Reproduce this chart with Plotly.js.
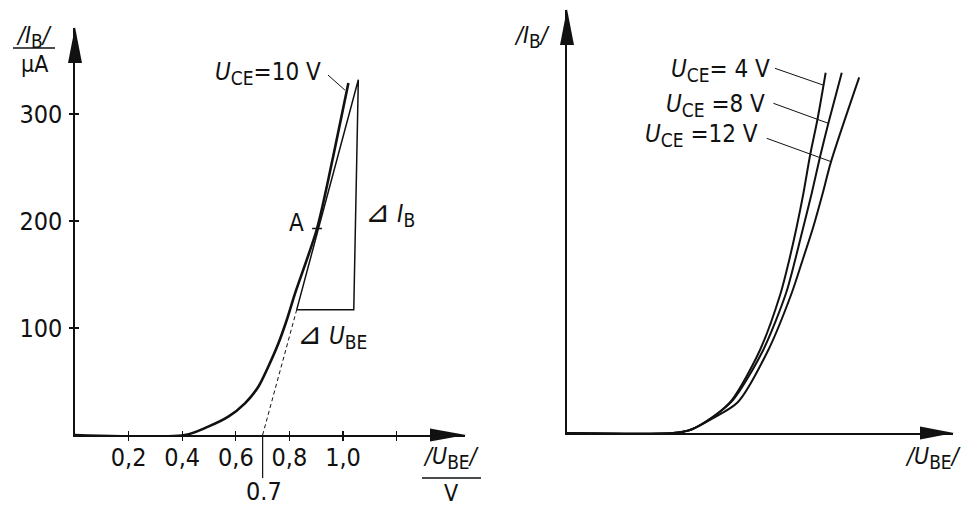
<!DOCTYPE html>
<html>
<head>
<meta charset="utf-8">
<script src="https://cdn.plot.ly/plotly-3.0.1.min.js"></script>
<style>html,body{margin:0;padding:0;background:#fff;}#chart{width:966px;height:506px;}</style>
</head>
<body>
<div id="chart"></div>
<script>
// ---- Data (left chart: U_CE = 10 V, scaled axes) ----
const uBE10 = [0, 0.410, 0.497, 0.572, 0.634, 0.684, 0.721, 0.759, 0.790, 0.821, 0.903, 0.963, 1.02];
const iB10  = [0, 0, 7.8, 17.1, 29.6, 45.1, 63.8, 85.7, 107.5, 132.4, 193, 260, 329];

// tangent at working point A and slope triangle
const tangentDashX = [0.70, 0.827];
const tangentDashY = [0, 117];
const triangleX = [0.827, 1.04, 1.057, 0.827];
const triangleY = [117, 117, 332, 117];
const pointAX = [0.903];
const pointAY = [193];

const xTickVals = [0.2, 0.4, 0.6, 0.8, 1.0, 1.2];
const xTickText = ["0,2", "0,4", "0,6", "0,8", "1,0", ""];
const yTickVals = [100, 200, 300];
const yTickText = ["100", "200", "300"];

// ---- Data (right chart: family of curves, unscaled axes) ----
const uBE4  = [0, 0.396, 0.459, 0.545, 0.615, 0.720, 0.797, 0.829, 0.857, 0.882, 0.907, 0.934, 0.965];
const iB4   = [0, 0, 2.8, 15.2, 30.8, 77.6, 130.6, 161.7, 192.8, 224.0, 259.8, 292.5, 336.7];
const uBE8  = [0, 0.396, 0.459, 0.545, 0.619, 0.732, 0.817, 0.851, 0.882, 0.913, 0.944, 0.975, 1.025];
const iB8   = [0, 0, 2.8, 15.2, 30.8, 77.6, 130.6, 161.7, 192.8, 224.0, 258.2, 289.4, 336.7];
const uBE12 = [0, 0.396, 0.459, 0.545, 0.638, 0.751, 0.838, 0.879, 0.919, 0.954, 0.985, 1.090];
const iB12  = [0, 0, 2.8, 14, 29, 77.6, 130.6, 161.7, 192.8, 224.0, 253.6, 332.4];

// ---- helpers ----
const W = 966, H = 506;
const px = v => v / W;
const py = v => 1 - v / H;
const tri = (a, b, c) => `M ${px(a[0])} ${py(a[1])} L ${px(b[0])} ${py(b[1])} L ${px(c[0])} ${py(c[1])} Z`;

const FONT = "Liberation Sans Narrow, DejaVu Sans Condensed, Liberation Sans, sans-serif";
const INK = "#111";
const DELTA = '<span style="font-family:DejaVu Sans;font-size:30px">⊿</span>';
const sub = (s, size) => `<sub><span style="font-size:${size}px">${s}</span></sub>`;

const traces = [
  {x: uBE10, y: iB10, mode: "lines", line: {color: INK, width: 2.6, shape: "spline", smoothing: 0.8}, xaxis: "x", yaxis: "y", hoverinfo: "skip"},
  {x: tangentDashX, y: tangentDashY, mode: "lines", line: {color: INK, width: 1, dash: "4px,3px"}, xaxis: "x", yaxis: "y"},
  {x: triangleX, y: triangleY, mode: "lines", line: {color: INK, width: 1.5}, xaxis: "x", yaxis: "y"},
  {x: pointAX, y: pointAY, mode: "markers", marker: {symbol: "line-ew", size: 7, line: {color: INK, width: 1.5}}, xaxis: "x", yaxis: "y"},
  {x: uBE4, y: iB4, mode: "lines", line: {color: INK, width: 2, shape: "spline", smoothing: 0.8}, xaxis: "x2", yaxis: "y2"},
  {x: uBE8, y: iB8, mode: "lines", line: {color: INK, width: 2, shape: "spline", smoothing: 0.8}, xaxis: "x2", yaxis: "y2"},
  {x: uBE12, y: iB12, mode: "lines", line: {color: INK, width: 2, shape: "spline", smoothing: 0.8}, xaxis: "x2", yaxis: "y2"},
  {x: [null], y: [null], mode: "lines", xaxis: "x3", yaxis: "y3"}
];

const xRangeL = [0, 1.455], yRangeL = [0, 380.4];
const xRangeR = [0, 1.440], yRangeR = [0, 395.3];

const ann = (o) => Object.assign({showarrow: false, xanchor: "center", yanchor: "middle"}, o);

const layout = {
  width: W, height: H,
  margin: {l: 0, r: 0, t: 0, b: 0},
  paper_bgcolor: "#fff", plot_bgcolor: "rgba(0,0,0,0)",
  showlegend: false,
  xaxis: {domain: [px(75), px(465)], range: xRangeL, anchor: "y",
    showgrid: false, zeroline: false, showline: true, linecolor: INK, linewidth: 2,
    tickmode: "array", tickvals: xTickVals, ticktext: xTickText,
    ticks: "outside", ticklen: 4, tickwidth: 1.3, tickcolor: INK, ticklabelstandoff: -5,
    tickfont: {family: FONT, size: 25, color: INK}},
  yaxis: {domain: [py(435), py(28)], range: yRangeL, anchor: "x",
    showgrid: false, zeroline: false, showline: true, linecolor: INK, linewidth: 1.6,
    tickmode: "array", tickvals: yTickVals, ticktext: yTickText,
    ticks: "outside", ticklen: 4, tickwidth: 1.3, tickcolor: INK, ticklabelstandoff: 2,
    tickfont: {family: FONT, size: 25, color: INK}},
  xaxis3: {overlaying: "x", range: xRangeL, anchor: "y3", showgrid: false, zeroline: false,
    tickmode: "array", tickvals: xTickVals, ticks: "inside", ticklen: 4, tickwidth: 1.3, tickcolor: INK, showticklabels: false},
  yaxis3: {overlaying: "y", range: yRangeL, anchor: "x3", showgrid: false, zeroline: false,
    tickmode: "array", tickvals: yTickVals, ticks: "inside", ticklen: 4, tickwidth: 1.3, tickcolor: INK, showticklabels: false},
  xaxis2: {domain: [px(567), px(953)], range: xRangeR, anchor: "y2",
    showgrid: false, zeroline: false, showline: true, linecolor: INK, linewidth: 2,
    showticklabels: false, ticks: ""},
  yaxis2: {domain: [py(433), py(10)], range: yRangeR, anchor: "x2",
    showgrid: false, zeroline: false, showline: true, linecolor: INK, linewidth: 1.6,
    showticklabels: false, ticks: ""},
  shapes: [
    // arrow heads
    {type: "path", xref: "paper", yref: "paper", path: tri([75, 27], [68, 63], [82, 63]), fillcolor: INK, line: {width: 0}},
    {type: "path", xref: "paper", yref: "paper", path: tri([466, 435], [430, 428.5], [430, 441.5]), fillcolor: INK, line: {width: 0}},
    {type: "path", xref: "paper", yref: "paper", path: tri([567, 9], [560, 45], [574, 45]), fillcolor: INK, line: {width: 0}},
    {type: "path", xref: "paper", yref: "paper", path: tri([954, 433], [920, 426.5], [920, 439.5]), fillcolor: INK, line: {width: 0}},
    // 0.7 reference line below axis
    {type: "line", xref: "x", yref: "paper", x0: 0.7, x1: 0.7, y0: py(435), y1: py(478), line: {color: INK, width: 1.2}},
    // fraction bars of axis titles
    {type: "line", xref: "paper", yref: "paper", x0: px(13), x1: px(55), y0: py(48), y1: py(48), line: {color: INK, width: 1.6}},
    {type: "line", xref: "paper", yref: "paper", x0: px(422), x1: px(481), y0: py(478), y1: py(478), line: {color: INK, width: 1.6}},
    // leader lines
    {type: "line", xref: "x", yref: "y", x0: 0.944, y0: 336.4, x1: 1.007, y1: 322.4, line: {color: INK, width: 1}},
    {type: "line", xref: "x2", yref: "y2", x0: 0.776, y0: 340.8, x1: 0.955, y1: 325.2, line: {color: INK, width: 1}},
    {type: "line", xref: "x2", yref: "y2", x0: 0.770, y0: 308.1, x1: 0.975, y1: 289.4, line: {color: INK, width: 1}},
    {type: "line", xref: "x2", yref: "y2", x0: 0.745, y0: 275.4, x1: 0.985, y1: 253.6, line: {color: INK, width: 1}}
  ],
  annotations: [
    // left y title
    ann({xref: "paper", yref: "paper", x: px(34), y: py(37), text: "<i>/I</i>" + sub("B", 19) + "<i>/</i>", font: {family: FONT, size: 23, color: INK}}),
    ann({xref: "paper", yref: "paper", x: px(34), y: py(64), text: "µA", font: {family: FONT, size: 23, color: INK}}),
    // left x title
    ann({xref: "paper", yref: "paper", x: px(451), y: py(458), text: "<i>/U</i>" + sub("BE", 19) + "<i>/</i>", font: {family: FONT, size: 23, color: INK}}),
    ann({xref: "paper", yref: "paper", x: px(451), y: py(493), text: "V", font: {family: FONT, size: 23, color: INK}}),
    // 0.7 label
    ann({xref: "x", yref: "paper", x: 0.705, y: py(491), text: "0.7", font: {family: FONT, size: 25, color: INK}}),
    // left curve labels
    ann({xref: "x", yref: "y", x: 0.925, y: 338.3, xanchor: "right", text: "<i>U</i>" + sub("CE", 19) + "=10 V", font: {family: FONT, size: 24, color: INK}}),
    ann({xref: "x", yref: "y", x: 0.826, y: 197.7, text: "A", font: {family: FONT, size: 24, color: INK}}),
    ann({xref: "x", yref: "y", x: 1.075, y: 207.5, xanchor: "left", text: DELTA + " <i>I</i>" + sub("B", 19), font: {family: FONT, size: 24, color: INK}}),
    ann({xref: "x", yref: "y", x: 0.821, y: 93.5, xanchor: "left", text: DELTA + " <i>U</i>" + sub("BE", 19), font: {family: FONT, size: 24, color: INK}}),
    // right titles
    ann({xref: "paper", yref: "paper", x: px(532), y: py(37), text: "<i>/I</i>" + sub("B", 19) + "<i>/</i>", font: {family: FONT, size: 23, color: INK}}),
    ann({xref: "paper", yref: "paper", x: px(933), y: py(458), text: "<i>/U</i>" + sub("BE", 19) + "<i>/</i>", font: {family: FONT, size: 23, color: INK}}),
    // right curve labels
    ann({xref: "x2", yref: "y2", x: 0.765, y: 339, xanchor: "right", text: "<i>U</i>" + sub("CE", 19) + "= 4 V", font: {family: FONT, size: 24, color: INK}}),
    ann({xref: "x2", yref: "y2", x: 0.746, y: 306.5, xanchor: "right", text: "<i>U</i>" + sub("CE", 19) + " =8 V", font: {family: FONT, size: 24, color: INK}}),
    ann({xref: "x2", yref: "y2", x: 0.720, y: 277.6, xanchor: "right", text: "<i>U</i>" + sub("CE", 19) + " =12 V", font: {family: FONT, size: 24, color: INK}})
  ]
};

Plotly.newPlot("chart", traces, layout, {displayModeBar: false, staticPlot: true});
</script>
</body>
</html>
